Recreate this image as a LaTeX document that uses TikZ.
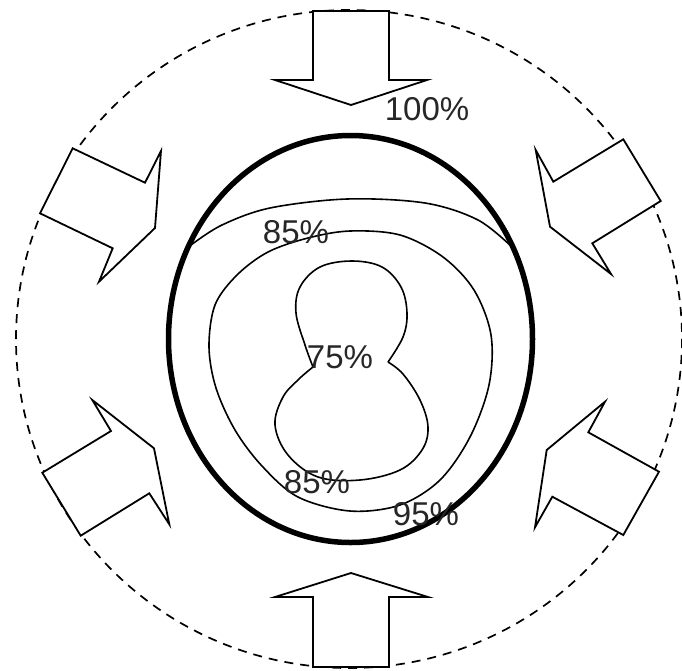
\documentclass[tikz,border=0pt]{standalone}
\usepackage{fontspec}
\setmainfont{Liberation Sans}
\begin{document}
\begin{tikzpicture}[x=1pt,y=-1pt,
  blockarrow/.style={draw=black,line width=1.8pt,fill=white,line join=miter},
  contour/.style={draw=black,line width=1.6pt},
  pct/.style={inner sep=0pt,anchor=base,text=black!85,font=\fontsize{33}{33}\selectfont}]
\useasboundingbox (0,0) rectangle (682,670);
\fill[white] (0,0) rectangle (682,670);
% dashed outer boundary
\draw[line width=1.7pt,dash pattern=on 9pt off 7pt] (349,339) ellipse [x radius=333, y radius=329];
% block arrows
\draw[blockarrow] (313,11) -- (389,11) -- (389,80) -- (427,80) -- (351,105) -- (275,80) -- (313,80) -- cycle;
\draw[blockarrow] (313,667) -- (313,597) -- (275,597) -- (351,573) -- (428,597) -- (389,597) -- (389,667) -- cycle;
\draw[blockarrow] (72.7,148.3) -- (145,182.7) -- (161,151) -- (155,228) -- (99,281.7) -- (112.7,248.3) -- (40,213.3) -- cycle;
\draw[blockarrow] (623.3,139.3) -- (553.3,181.7) -- (535.7,150) -- (550,226.7) -- (611,274) -- (592.3,243.3) -- (660.7,201) -- cycle;
\draw[blockarrow] (42.3,472.7) -- (111,431) -- (92.3,400) -- (154,448.3) -- (169.3,524.3) -- (149.3,493.3) -- (80.7,535.7) -- cycle;
\draw[blockarrow] (659,471.7) -- (588.3,432.3) -- (605,401.7) -- (546.7,450) -- (535,527.3) -- (552.3,496.7) -- (623.3,535) -- cycle;
% thick boundary
\draw[line width=5.5pt] (350.5,339) ellipse [x radius=182, y radius=203.5];
% 95% contour arc
\draw[contour] plot[smooth,tension=0.55] coordinates {(191,245) (222,225) (270,208) (347,199) (425,203) (478,220) (513,248)};
% 85% contour
\draw[contour] plot[smooth cycle,tension=0.55] coordinates {(350,231) (400,235) (443,257) (474,290) (491,335) (489,385) (470,437) (440,480) (400,505) (350,511) (298,497) (262,466) (235,430) (216,388) (209,347) (215,305) (237,275) (268,252) (308,238)};
% 75% figure-eight
\draw[contour] plot[smooth,tension=0.6] coordinates {(313,367) (305,345) (296,313) (300,287) (320,267) (352,261) (382,267) (401,287) (407,313) (403,337) (388,362)}
  plot[smooth,tension=0.6] coordinates {(388,362) (403,374) (420,400) (428,427) (422,450) (400,470) (360,480) (318,477) (288,455) (275,425) (283,397) (299,379) (313,367)};
% labels
\node[pct] (p100) at (427,120) {100\%};
\node[pct] (p85a) at (296,243) {85\%};
\node[pct] (p75) at (340,368) {75\%};
\node[pct] (p85b) at (317,493) {85\%};
\node[pct] (p95) at (426,525) {95\%};
\end{tikzpicture}
\end{document}
